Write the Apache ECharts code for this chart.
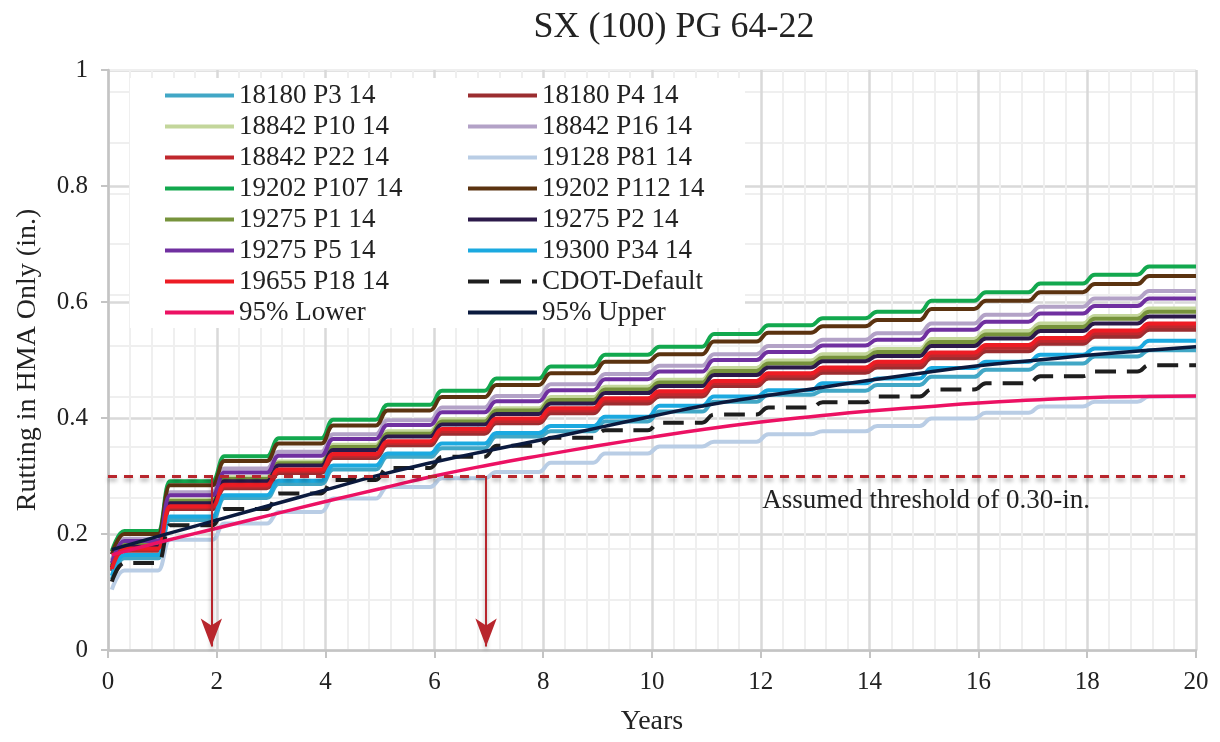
<!DOCTYPE html>
<html>
<head>
<meta charset="utf-8">
<title>SX (100) PG 64-22</title>
<script src="https://cdn.jsdelivr.net/npm/echarts@6/dist/echarts.min.js"></script>
<style>
  html, body { margin: 0; padding: 0; background: #fff; }
  #main { width: 1220px; height: 742px; }
</style>
</head>
<body>
<div id="main"></div>
<script>
// rutting per year of service (plateau value held during each year, 0..19)
var years = [0.07, 1, 2, 3, 4, 5, 6, 7, 8, 9, 10, 11, 12, 13, 14, 15, 16, 17, 18, 19, 20];

var names = ['18180 P3 14', '18180 P4 14', '18842 P10 14', '18842 P16 14', '18842 P22 14',
  '19128 P81 14', '19202 P107 14', '19202 P112 14', '19275 P1 14', '19275 P2 14',
  '19275 P5 14', '19300 P34 14', '19655 P18 14', 'CDOT-Default', '95% Lower', '95% Upper'];

var colors = ['#41a7c6', '#9b2d30', '#c3d69b', '#b3a2c7', '#c0282d', '#b9cde5', '#12a84e',
  '#5b3310', '#77933c', '#2c1a4a', '#7030a0', '#1ba9e0', '#ed1c24', '#1e1e1e', '#ec1163', '#0b1a3e'];

// first point of each step series (just after opening)
var startVals = [0.122, 0.136, 0.147, 0.155, 0.138, 0.104, 0.170, 0.165, 0.145, 0.142, 0.150, 0.128, 0.140, 0.118];

var p3_18180 = [0.158, 0.224, 0.262, 0.286, 0.311, 0.333, 0.348, 0.368, 0.377, 0.394, 0.411, 0.428, 0.440, 0.447, 0.457, 0.471, 0.483, 0.494, 0.506, 0.517];
var p4_18180 = [0.171, 0.243, 0.279, 0.305, 0.331, 0.353, 0.373, 0.391, 0.408, 0.425, 0.437, 0.455, 0.468, 0.478, 0.487, 0.503, 0.515, 0.528, 0.540, 0.552];
var p10_18842 = [0.183, 0.259, 0.298, 0.325, 0.354, 0.377, 0.398, 0.417, 0.436, 0.454, 0.466, 0.486, 0.499, 0.510, 0.519, 0.536, 0.550, 0.563, 0.576, 0.589];
var p16_18842 = [0.192, 0.272, 0.313, 0.342, 0.372, 0.396, 0.418, 0.438, 0.458, 0.476, 0.490, 0.510, 0.524, 0.535, 0.546, 0.563, 0.578, 0.592, 0.606, 0.619];
var p22_18842 = [0.173, 0.246, 0.282, 0.308, 0.335, 0.357, 0.377, 0.395, 0.413, 0.430, 0.441, 0.460, 0.473, 0.483, 0.492, 0.508, 0.521, 0.533, 0.546, 0.558];
var p81_19128 = [0.137, 0.190, 0.218, 0.238, 0.261, 0.281, 0.296, 0.307, 0.323, 0.339, 0.351, 0.359, 0.372, 0.377, 0.386, 0.399, 0.409, 0.420, 0.428, 0.437];
var p107_19202 = [0.205, 0.291, 0.334, 0.365, 0.397, 0.423, 0.447, 0.468, 0.489, 0.509, 0.523, 0.545, 0.560, 0.572, 0.583, 0.602, 0.617, 0.632, 0.647, 0.661];
var p112_19202 = [0.200, 0.284, 0.326, 0.356, 0.387, 0.413, 0.436, 0.457, 0.477, 0.497, 0.510, 0.532, 0.547, 0.558, 0.569, 0.588, 0.602, 0.617, 0.631, 0.645];
var p1_19275 = [0.181, 0.257, 0.295, 0.322, 0.350, 0.373, 0.394, 0.413, 0.431, 0.449, 0.461, 0.481, 0.494, 0.504, 0.514, 0.531, 0.544, 0.557, 0.571, 0.583];
var p2_19275 = [0.178, 0.253, 0.291, 0.318, 0.345, 0.368, 0.389, 0.407, 0.425, 0.443, 0.455, 0.474, 0.487, 0.498, 0.507, 0.524, 0.537, 0.550, 0.563, 0.575];
var p5_19275 = [0.188, 0.267, 0.306, 0.335, 0.364, 0.388, 0.410, 0.429, 0.448, 0.467, 0.480, 0.500, 0.514, 0.525, 0.535, 0.552, 0.566, 0.580, 0.593, 0.606];
var p34_19300 = [0.164, 0.230, 0.267, 0.292, 0.318, 0.339, 0.356, 0.374, 0.386, 0.402, 0.421, 0.437, 0.448, 0.460, 0.468, 0.486, 0.497, 0.509, 0.520, 0.533];
var p18_19655 = [0.175, 0.248, 0.285, 0.311, 0.338, 0.360, 0.381, 0.399, 0.417, 0.434, 0.446, 0.464, 0.477, 0.487, 0.497, 0.513, 0.526, 0.538, 0.551, 0.563];
var cdotDefault = [0.150, 0.215, 0.243, 0.270, 0.293, 0.314, 0.333, 0.352, 0.366, 0.379, 0.392, 0.406, 0.418, 0.427, 0.437, 0.449, 0.460, 0.472, 0.480, 0.491];

// 95% bounds, one value per entry of years
var lower95 = [0.164, 0.187, 0.210, 0.233, 0.256, 0.278, 0.300, 0.319, 0.336, 0.352, 0.367, 0.381, 0.393, 0.403, 0.412, 0.419, 0.426, 0.431, 0.435, 0.437, 0.438];
var upper95 = [0.173, 0.198, 0.224, 0.250, 0.276, 0.302, 0.324, 0.344, 0.363, 0.383, 0.403, 0.422, 0.437, 0.451, 0.465, 0.478, 0.490, 0.499, 0.508, 0.516, 0.523];

var threshold = 0.30;
var thresholdEnd = 19.8;
var arrowYears = [1.9, 6.95];

var stepSeries = [p3_18180, p4_18180, p10_18842, p16_18842, p22_18842, p81_19128, p107_19202,
  p112_19202, p1_19275, p2_19275, p5_19275, p34_19300, p18_19655, cdotDefault];

var legendLeft = ['18180 P3 14', '18842 P10 14', '18842 P22 14', '19202 P107 14', '19275 P1 14', '19275 P5 14', '19655 P18 14', '95% Lower'];
var legendRight = ['18180 P4 14', '18842 P16 14', '19128 P81 14', '19202 P112 14', '19275 P2 14', '19300 P34 14', 'CDOT-Default', '95% Upper'];

// each year's value is held, then rises around the start of the next year
function stepPoints(start, vals) {
  var pts = [[0.07, start], [0.3, vals[0]]];
  for (var n = 1; n < vals.length; n++) {
    pts.push([n - 0.08, vals[n - 1]]);
    pts.push([n + 0.14, vals[n]]);
  }
  pts.push([20, vals[vals.length - 1]]);
  return pts;
}

var FONT = 'Liberation Serif';
var myChart = echarts.init(document.getElementById('main'));

var series = [];
stepSeries.forEach(function (vals, i) {
  series.push({
    name: names[i],
    type: 'line',
    data: stepPoints(startVals[i], vals),
    symbol: 'none',
    smooth: 0.5,
    smoothMonotone: 'x',
    lineStyle: {
      color: colors[i],
      width: 4,
      type: i === 13 ? [21, 11] : 'solid'
    },
    itemStyle: { color: colors[i] }
  });
});
[lower95, upper95].forEach(function (vals, k) {
  var i = 14 + k;
  series.push({
    name: names[i],
    type: 'line',
    data: years.map(function (x, j) { return [x, vals[j]]; }),
    symbol: 'none',
    smooth: true,
    lineStyle: { color: colors[i], width: 3.5 },
    itemStyle: { color: colors[i] }
  });
});

// threshold, arrows and note
var shadow = { shadowColor: 'rgba(0,0,0,0.35)', shadowBlur: 4, shadowOffsetY: 3 };
series.push({
  name: 'threshold',
  type: 'line',
  data: [],
  silent: true,
  markLine: {
    silent: true,
    animation: false,
    label: { show: false },
    symbol: ['none', 'none'],
    lineStyle: Object.assign({ color: '#b8262d', width: 3, type: [9, 7] }, shadow),
    data: [[{ coord: [0, threshold] }, { coord: [thresholdEnd, threshold] }]]
  },
  markPoint: {
    silent: true,
    symbol: 'circle',
    symbolSize: 1,
    itemStyle: { color: 'rgba(0,0,0,0)' },
    label: {
      show: true,
      position: 'inside',
      formatter: 'Assumed threshold of 0.30-in.',
      color: '#222',
      fontFamily: FONT,
      fontSize: 27
    },
    data: [{ coord: [15.04, 0.257] }]
  }
});
series.push({
  name: 'arrows',
  type: 'line',
  data: [],
  silent: true,
  markLine: {
    silent: true,
    animation: false,
    label: { show: false },
    symbol: ['none', 'arrow'],
    symbolSize: [16, 28],
    lineStyle: Object.assign({ color: '#b8262d', width: 2, type: 'solid' }, shadow),
    itemStyle: { color: '#b8262d' },
    data: arrowYears.map(function (x) {
      return [{ coord: [x, threshold] }, { coord: [x, 0.006] }];
    })
  }
});

var legendCommon = {
  orient: 'vertical',
  top: 82,
  padding: 0,
  itemWidth: 69,
  itemHeight: 14,
  itemGap: 4,
  selectedMode: false,
  itemStyle: { opacity: 0 },
  lineStyle: { width: 4 },
  textStyle: { fontFamily: FONT, fontSize: 27, color: '#222', lineHeight: 27 }
};

var option = {
  animation: false,
  backgroundColor: '#fff',
  title: {
    text: 'SX (100) PG 64-22',
    left: 669,
    textAlign: 'center',
    top: 5,
    textStyle: { fontFamily: FONT, fontSize: 36, fontWeight: 'normal', color: '#222' }
  },
  legend: [
    Object.assign({ left: 163, data: legendLeft }, legendCommon),
    Object.assign({ left: 466, data: legendRight }, legendCommon)
  ],
  grid: { left: 108, right: 24, top: 70, bottom: 92, containLabel: false },
  xAxis: {
    type: 'value',
    min: 0,
    max: 20,
    interval: 2,
    name: 'Years',
    nameLocation: 'middle',
    nameGap: 58,
    nameTextStyle: { fontFamily: FONT, fontSize: 28, color: '#222' },
    axisLine: { onZero: false, lineStyle: { color: '#c4c4c4', width: 2.5 } },
    axisTick: { show: true, length: 8, lineStyle: { color: '#c4c4c4', width: 2 } },
    axisLabel: { fontFamily: FONT, fontSize: 25, color: '#222', margin: 20 },
    splitLine: { show: true, lineStyle: { color: '#d9d9d9', width: 2.5 } },
    minorTick: { show: false, splitNumber: 5 },
    minorSplitLine: { show: true, lineStyle: { color: '#efefef', width: 2 } }
  },
  yAxis: [{
    type: 'value',
    min: 0,
    max: 1,
    interval: 0.2,
    name: 'Rutting in HMA Only (in.)',
    nameLocation: 'middle',
    nameGap: 66,
    nameTextStyle: { fontFamily: FONT, fontSize: 28, color: '#222' },
    axisLine: { show: true, lineStyle: { color: '#c4c4c4', width: 2.5 } },
    axisTick: { show: true, length: 7, lineStyle: { color: '#c4c4c4', width: 2 } },
    axisLabel: { fontFamily: FONT, fontSize: 25, color: '#222', margin: 20 },
    splitLine: { show: true, lineStyle: { color: '#d9d9d9', width: 2.5 } }
  }, {
    // the faint horizontal minor grid of the original
    type: 'value',
    min: 0,
    max: 1,
    interval: 0.0875,
    position: 'left',
    axisLine: { show: false },
    axisTick: { show: false },
    axisLabel: { show: false },
    splitLine: { show: true, lineStyle: { color: '#efefef', width: 2 } }
  }],
  graphic: [{
    type: 'rect',
    z: 1,
    silent: true,
    shape: { x: 130, y: 78, width: 615, height: 250 },
    style: { fill: '#fff' }
  }],
  series: series
};

myChart.setOption(option);
window.onresize = myChart.resize;
</script>
</body>
</html>
